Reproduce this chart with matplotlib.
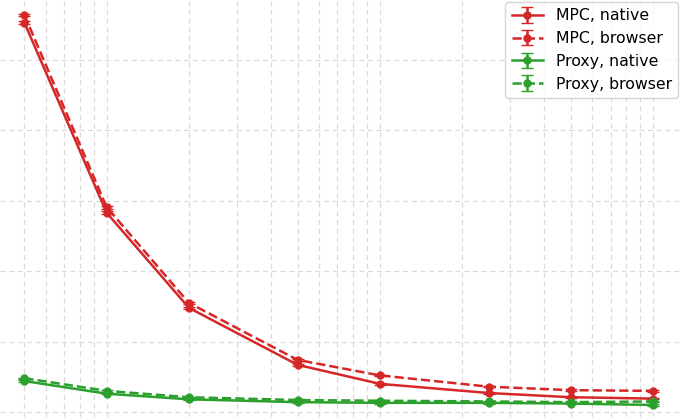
import matplotlib
matplotlib.use("Agg")
import matplotlib.pyplot as plt

# sizes (x axis, log scale)
sizes = [5, 10, 20, 50, 100, 250, 500, 1000]

# latency values (arbitrary units, one grid step = 1)
mpc_native = [5.53, 2.83, 1.48, 0.67, 0.40, 0.27, 0.21, 0.19]
mpc_browser = [5.64, 2.91, 1.55, 0.74, 0.52, 0.36, 0.31, 0.30]
proxy_native = [0.44, 0.26, 0.18, 0.14, 0.13, 0.13, 0.12, 0.10]
proxy_browser = [0.48, 0.30, 0.21, 0.17, 0.16, 0.15, 0.14, 0.15]

# error bars are too small to see in the picture
mpc_native_err = [0.02, 0.02, 0.01, 0.01, 0.01, 0.01, 0.01, 0.01]
mpc_browser_err = [0.02, 0.02, 0.01, 0.01, 0.01, 0.01, 0.01, 0.01]
proxy_native_err = [0.01, 0.01, 0.01, 0.01, 0.01, 0.01, 0.01, 0.01]
proxy_browser_err = [0.01, 0.01, 0.01, 0.01, 0.01, 0.01, 0.01, 0.01]

red = '#d62728'
green = '#2ca02c'

fig = plt.figure(figsize=(6.8, 4.17), dpi=100)
ax = fig.add_axes([0, 0, 1, 1])

series = [
    (mpc_native, mpc_native_err, red, '-', 'MPC, native'),
    (mpc_browser, mpc_browser_err, red, '--', 'MPC, browser'),
    (proxy_native, proxy_native_err, green, '-', 'Proxy, native'),
    (proxy_browser, proxy_browser_err, green, '--', 'Proxy, browser'),
]
for vals, err, col, ls, name in series:
    ax.errorbar(sizes, vals, yerr=err, color=col, linestyle=ls, linewidth=1.8,
                marker='o', markersize=5, capsize=4, label=name)

ax.set_xscale('log')
ax.set_xlim(4.07, 1256)
ax.set_ylim(-0.071, 5.852)
ax.set_yticks([0, 1, 2, 3, 4, 5])

ax.grid(True, which='major', axis='both', linestyle=(0, (4, 3)), color='#dadada', linewidth=0.9)
ax.grid(True, which='minor', axis='x', linestyle=(0, (4, 3)), color='#dadada', linewidth=0.9)
ax.tick_params(which='both', length=0, labelbottom=False, labelleft=False)
for s in ax.spines.values():
    s.set_visible(False)

ax.legend(loc='upper right', bbox_to_anchor=(678 / 680, 1 - 2 / 417),
          bbox_transform=fig.transFigure, borderaxespad=0, fontsize=11.3)

fig.savefig('out.png', dpi=100)
